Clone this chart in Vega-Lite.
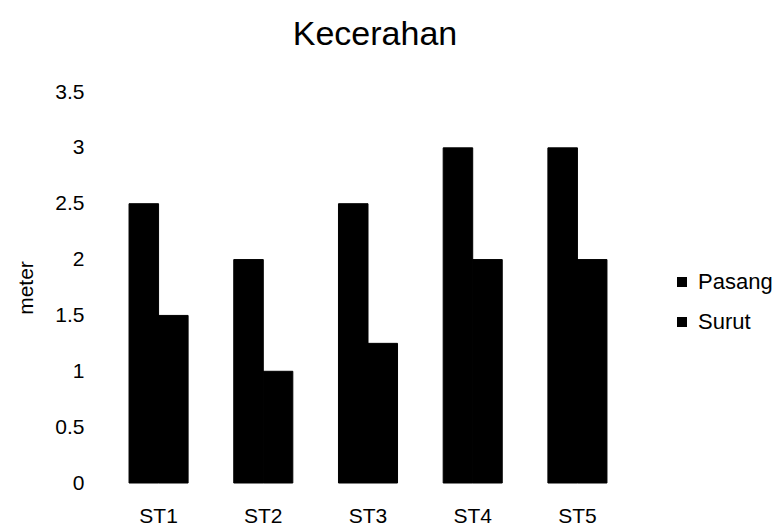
{
  "$schema": "https://vega.github.io/schema/vega-lite/v6.json",
  "autosize": "none",
  "width": 524,
  "height": 391,
  "padding": {"left": 106, "top": 92, "right": 153, "bottom": 42},
  "background": "white",
  "config": {
    "font": "Liberation Sans",
    "view": {"stroke": null}
  },
  "title": {
    "text": "Kecerahan",
    "fontSize": 34,
    "fontWeight": "normal",
    "color": "black",
    "offset": 29,
    "dx": 7,
    "anchor": "middle"
  },
  "data": {
    "values": [
      {"station": "ST1", "series": "Pasang", "value": 2.5},
      {"station": "ST1", "series": "Surut", "value": 1.5},
      {"station": "ST2", "series": "Pasang", "value": 2.0},
      {"station": "ST2", "series": "Surut", "value": 1.0},
      {"station": "ST3", "series": "Pasang", "value": 2.5},
      {"station": "ST3", "series": "Surut", "value": 1.25},
      {"station": "ST4", "series": "Pasang", "value": 3.0},
      {"station": "ST4", "series": "Surut", "value": 2.0},
      {"station": "ST5", "series": "Pasang", "value": 3.0},
      {"station": "ST5", "series": "Surut", "value": 2.0}
    ]
  },
  "mark": {"type": "bar", "stroke": "black", "strokeWidth": 1},
  "encoding": {
    "x": {
      "field": "station",
      "type": "nominal",
      "scale": {"paddingInner": 0.436, "paddingOuter": 0.22},
      "axis": {
        "title": null,
        "labelAngle": 0,
        "domain": false,
        "ticks": false,
        "labelFontSize": 21,
        "labelColor": "black",
        "labelPadding": 22
      }
    },
    "xOffset": {"field": "series", "type": "nominal", "scale": {"paddingInner": 0, "paddingOuter": 0}},
    "y": {
      "field": "value",
      "type": "quantitative",
      "scale": {"domain": [0, 3.5]},
      "axis": {
        "title": "meter",
        "titleFontSize": 21,
        "titleFontWeight": "normal",
        "titleColor": "black",
        "titlePadding": 18,
        "values": [0, 0.5, 1, 1.5, 2, 2.5, 3, 3.5],
        "format": "~g",
        "grid": false,
        "domain": false,
        "ticks": false,
        "labelFontSize": 21,
        "labelColor": "black",
        "labelPadding": 22
      }
    },
    "color": {
      "field": "series",
      "type": "nominal",
      "scale": {"domain": ["Pasang", "Surut"], "range": ["#000000", "#000000"]},
      "legend": {
        "title": null,
        "orient": "none",
        "legendX": 565,
        "legendY": 179,
        "symbolType": "square",
        "symbolSize": 100,
        "symbolStrokeWidth": 0,
        "labelFontSize": 22,
        "labelColor": "black",
        "rowPadding": 18,
        "labelOffset": 5
      }
    }
  }
}
